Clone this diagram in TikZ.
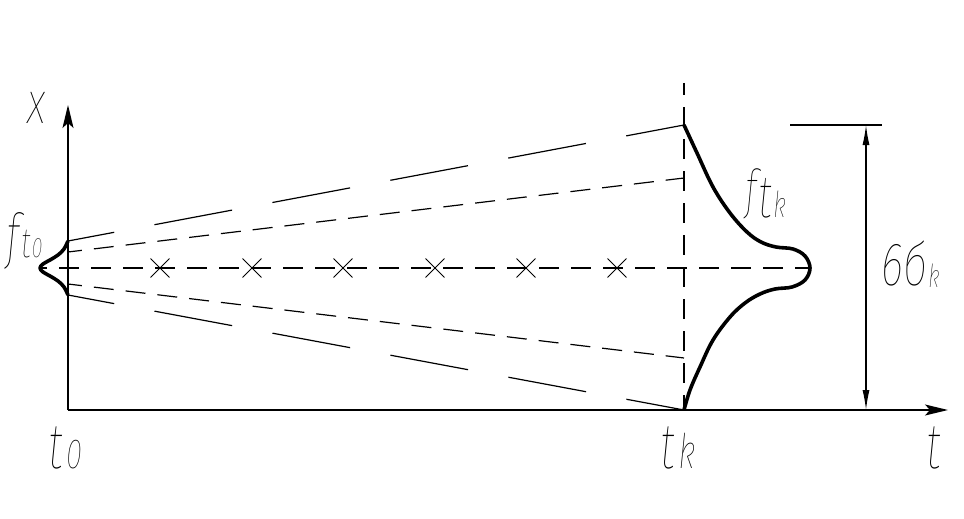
\documentclass[tikz,border=0pt]{standalone}
\usepackage{fontspec}
\usetikzlibrary{
    arrows.meta,
    positioning,
    shapes.misc % cross out
}
\IfFontExistsTF{Fira Sans Thin Italic}{%
    \newfontfamily\cadfont{Fira Sans Thin Italic}[FakeStretch=0.7]}{%
  \IfFontExistsTF{DejaVuSans-ExtraLight.ttf}{%
    \newfontfamily\cadfont{DejaVuSans-ExtraLight.ttf}[FakeSlant=0.2, FakeStretch=0.7]}{%
    \newfontfamily\cadfont{Liberation Sans}[FakeSlant=0.2, FakeStretch=0.7]}}
\newcommand\cadsize[2]{{\fontsize{#1pt}{#1pt}\selectfont #2}}

\begin{document}
\begin{tikzpicture}[
    x=1pt, y=-1pt,
    axis/.style       = {line width=1.6pt, -{Stealth[length=23pt, width=11pt, inset=5pt]}},
    longdash/.style   = {line width=1.2pt, dash pattern=on 79pt off 41pt, dash phase=32pt},
    shortdash/.style  = {line width=1.2pt, dash pattern=on 20pt off 12pt},
    density/.style    = {line width=3.6pt, line join=round},
    dimline/.style    = {line width=1.2pt, {Latex[length=20pt, width=7pt]}-{Latex[length=20pt, width=7pt]}},
    crossmark/.style  = {cross out, draw, line width=0.9pt, minimum size=18pt, inner sep=0pt},
    cadlabel/.style   = {anchor=base west, inner sep=0pt, font=\cadfont},
]
    \useasboundingbox (0,0) rectangle (964,519);

    %Points
    \coordinate (origin)  at (68,410);
    \coordinate (xtip)    at (68,105);
    \coordinate (ttip)    at (948,410);
    \coordinate (lefttop) at (68,241);
    \coordinate (leftbot) at (68,295);
    \coordinate (leftin1) at (68,252);
    \coordinate (leftin2) at (68,284);
    \coordinate (peakL)   at (40,268);
    \coordinate (peakR)   at (810,268);
    \coordinate (gtop)    at (684,125);
    \coordinate (gbot)    at (684,410);
    \coordinate (gin1)    at (684,178);
    \coordinate (gin2)    at (684,358);
    \coordinate (vtop)    at (684,83);
    \coordinate (dimext1) at (790,125);
    \coordinate (dimext2) at (882,125);
    \coordinate (dimtop)  at (866,125);
    \coordinate (dimbot)  at (866,410);

    %Nodes
    \node[cadlabel] (xlabel)   at (27,123)  {\cadsize{60}{x}};
    \node[cadlabel] (ftzero)   at (6,257)   {\cadsize{61}{f}\hspace{2pt}\cadsize{42}{t}\hspace{1pt}\cadsize{28}{0}};
    \node[cadlabel] (ftk)      at (745,208) {\cadsize{54}{f}\hspace{2pt}\raisebox{-9pt}{\cadsize{60}{t}\hspace{1pt}\cadsize{36}{k}}};
    \node[cadlabel] (sixsigma) at (881,285) {\cadsize{61}{6б}\hspace{1pt}\raisebox{-2pt}{\cadsize{32}{k}}};
    \node[cadlabel] (tzero)    at (48,468)  {\cadsize{64}{t}\hspace{4pt}\cadsize{42}{0}};
    \node[cadlabel] (tk)       at (660,468) {\cadsize{64}{t}\hspace{4pt}\cadsize{48}{k}};
    \node[cadlabel] (tlabel)   at (926,468) {\cadsize{64}{t}};

    %Lines
    \draw[longdash] (lefttop) -- (gtop);
    \draw[longdash] (leftbot) -- (gbot);
    \draw[shortdash, dash phase=6pt] (leftin1) -- (gin1);
    \draw[shortdash, dash phase=6pt] (leftin2) -- (gin2);
    \draw[shortdash, dash phase=13pt] (peakL) -- (peakR);
    \draw[shortdash, dash phase=8pt] (vtop) -- (gbot);

    \foreach \x [count=\i] in {160,252,343,435,526,617}
        \node[crossmark] (cross\i) at (\x,268) {};

    %Axes
    \draw[axis] (origin) -- (xtip);
    \draw[axis] (origin) -- (ttip);

    %Densities
    \draw[density] plot[smooth, tension=0.6] coordinates {
        (68,241) (64,249) (58,255) (50,260) (43,264) (40,268)
        (43,272) (50,276) (58,281) (64,287) (68,295)};
    \draw[density] plot[smooth, tension=0.6] coordinates {
        (684,125) (697,153) (713,187) (730,213) (747,232) (761,242)
        (776,247) (793,249) (805,256) (810,268) (805,280) (792,287)
        (775,289) (760,294) (745,303) (730,317) (713,340) (700,367)
        (690,390) (684,410)};

    %Dimension
    \draw[line width=1.2pt] (dimext1) -- (dimext2);
    \draw[dimline] (dimtop) -- (dimbot);
\end{tikzpicture}
\end{document}
